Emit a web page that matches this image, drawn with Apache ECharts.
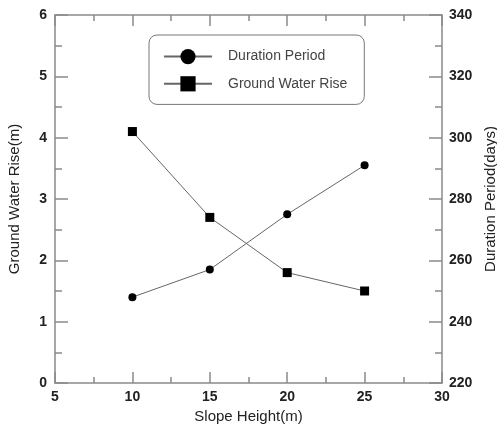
<!DOCTYPE html>
<html><head><meta charset="utf-8">
<script src="https://cdn.jsdelivr.net/npm/echarts@6/dist/echarts.min.js"></script>
<style>html,body{margin:0;padding:0;background:#fff}#c{width:497px;height:425px}</style>
</head><body><div id="c"></div>
<script>
const slopeHeight = [10, 15, 20, 25];
const durationPeriod = [248, 257, 275, 291];
const groundWaterRise = [4.1, 2.7, 1.8, 1.5];
const xTicks = {min: 5, max: 30, interval: 5};
const yLeft = {min: 0, max: 6, interval: 1};
const yRight = {min: 220, max: 340, interval: 20};

const axisCol = '#8a8a8a';
const lbl = {color: '#222', fontFamily: 'Liberation Sans, Arial', fontWeight: 'bold', fontSize: 14};
const nameStyle = {color: '#222', fontFamily: 'Liberation Sans, Arial', fontSize: 15};
const tick = {show: true, inside: true, length: 11, lineStyle: {color: axisCol, width: 1.5}};
const minor = {show: true, splitNumber: 2, length: 6, lineStyle: {color: axisCol, width: 1.5}};

const chart = echarts.init(document.getElementById('c'), null, {renderer: 'canvas'});
chart.setOption({
  animation: false,
  backgroundColor: '#fff',
  grid: {left: 55, right: 55, top: 15, bottom: 42, outerBoundsMode: 'none', containLabel: false},
  legend: {
    left: 149, top: 35, orient: 'vertical',
    data: ['Duration Period', 'Ground Water Rise'],
    itemWidth: 48, itemHeight: 19, itemGap: 12,
    padding: [14, 17, 13, 14],
    borderColor: '#777', borderWidth: 1, borderRadius: 8,
    textStyle: {color: '#444', fontFamily: 'Liberation Sans, Arial', fontSize: 14, padding: [0, 0, 0, 11]}
  },
  xAxis: [{
    type: 'value', min: xTicks.min, max: xTicks.max, interval: xTicks.interval,
    name: 'Slope Height(m)', nameLocation: 'middle', nameGap: 25, nameTextStyle: nameStyle,
    axisLine: {lineStyle: {color: axisCol, width: 1.5}},
    axisTick: tick, minorTick: minor, splitLine: {show: false},
    axisLabel: Object.assign({margin: 7}, lbl)
  }, {
    type: 'value', position: 'top', min: xTicks.min, max: xTicks.max, interval: xTicks.interval,
    axisLine: {lineStyle: {color: axisCol, width: 1.5}},
    axisTick: tick, minorTick: minor, splitLine: {show: false}, axisLabel: {show: false}
  }],
  yAxis: [{
    type: 'value', position: 'left', min: yLeft.min, max: yLeft.max, interval: yLeft.interval,
    name: 'Ground Water Rise(m)', nameLocation: 'middle', nameGap: 33, nameRotate: 90, nameTextStyle: nameStyle,
    axisLine: {show: true, lineStyle: {color: axisCol, width: 1.5}},
    axisTick: Object.assign({}, tick, {length: 13}), minorTick: Object.assign({}, minor, {length: 7}),
    splitLine: {show: false},
    axisLabel: Object.assign({margin: 8}, lbl)
  }, {
    type: 'value', position: 'right', min: yRight.min, max: yRight.max, interval: yRight.interval,
    name: 'Duration Period(days)', nameLocation: 'middle', nameGap: 40, nameRotate: 90, nameTextStyle: nameStyle,
    axisLine: {show: true, lineStyle: {color: axisCol, width: 1.5}},
    axisTick: Object.assign({}, tick, {length: 13}), minorTick: Object.assign({}, minor, {length: 7}),
    splitLine: {show: false},
    axisLabel: Object.assign({margin: 7}, lbl)
  }],
  series: [{
    name: 'Duration Period', type: 'line', yAxisIndex: 1,
    data: slopeHeight.map((x, i) => [x, durationPeriod[i]]),
    symbol: 'circle', symbolSize: 8,
    lineStyle: {color: '#666', width: 1}, itemStyle: {color: '#000'}
  }, {
    name: 'Ground Water Rise', type: 'line', yAxisIndex: 0,
    data: slopeHeight.map((x, i) => [x, groundWaterRise[i]]),
    symbol: 'rect', symbolSize: 9,
    lineStyle: {color: '#666', width: 1}, itemStyle: {color: '#000'}
  }]
});
</script></body></html>
